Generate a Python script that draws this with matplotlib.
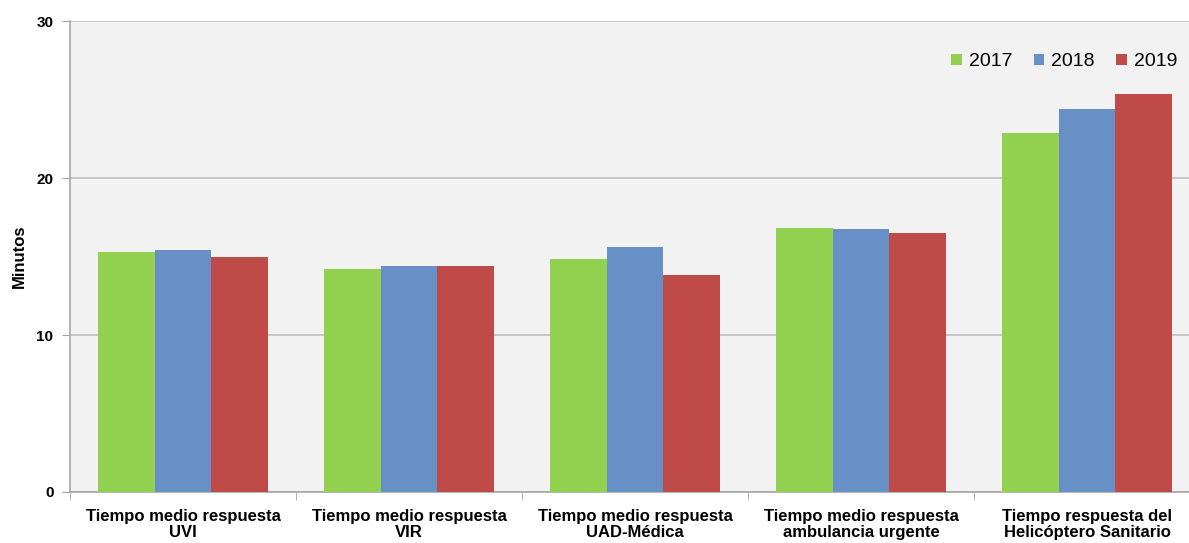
import numpy as np
import matplotlib.pyplot as plt

categories = ['Tiempo medio respuesta\nUVI', 'Tiempo medio respuesta\nVIR',
              'Tiempo medio respuesta\nUAD-Médica', 'Tiempo medio respuesta\nambulancia urgente',
              'Tiempo respuesta del\nHelicóptero Sanitario']
years = ['2017', '2018', '2019']
v2017 = [15.3, 14.2, 14.85, 16.8, 22.85]
v2018 = [15.4, 14.4, 15.6, 16.75, 24.4]
v2019 = [15.0, 14.4, 13.8, 16.5, 25.35]
colors = ['#92D050', '#6690C6', '#BE4B48']

plt.rcParams['font.family'] = ['Liberation Sans', 'DejaVu Sans']

fig = plt.figure(figsize=(11.89, 5.43), dpi=100)
# plot area runs a little past the right edge of the image, as in the original
ax = fig.add_axes([0.059, 0.094, 0.9504, 0.867])
ax.set_facecolor('#F2F2F2')

x = np.arange(len(categories))
w = 0.25
for i, (vals, yr) in enumerate(zip([v2017, v2018, v2019], years)):
    ax.bar(x + (i - 1) * w, vals, w, color=colors[i], label=yr, zorder=3)

ax.set_xlim(-0.5, len(categories) - 0.5)
ax.set_ylim(0, 30)
ax.set_yticks([0, 10, 20, 30])
ax.yaxis.grid(True, color='#BFBFBF', linewidth=1.2, zorder=0)
for s in ['top', 'right']:
    ax.spines[s].set_visible(False)
for s in ['left', 'bottom']:
    ax.spines[s].set_color('#A6A6A6')
    ax.spines[s].set_linewidth(1.2)

ax.set_xticks(x)
ax.set_xticklabels(categories, fontsize=12, fontweight='bold', linespacing=1.1)
ax.tick_params(axis='x', which='major', length=0, pad=12)
ax.set_xticks(np.arange(-0.5, len(categories), 1), minor=True)
ax.tick_params(axis='x', which='minor', length=6, color='#A6A6A6')
ax.tick_params(axis='y', length=6, color='#A6A6A6', labelsize=11, pad=6)
for t in ax.get_yticklabels():
    t.set_fontweight('bold')
ax.set_ylabel('Minutos', fontsize=12, fontweight='bold', labelpad=7)

fig.legend(*ax.get_legend_handles_labels(), loc='center right',
           bbox_to_anchor=(1177 / 1189, 1 - 62 / 543), ncol=3, frameon=False,
           fontsize=14, handlelength=0.55, handleheight=0.55, handletextpad=0.35,
           columnspacing=1.1, borderpad=0, borderaxespad=0)

fig.savefig('out.png', dpi=100)
